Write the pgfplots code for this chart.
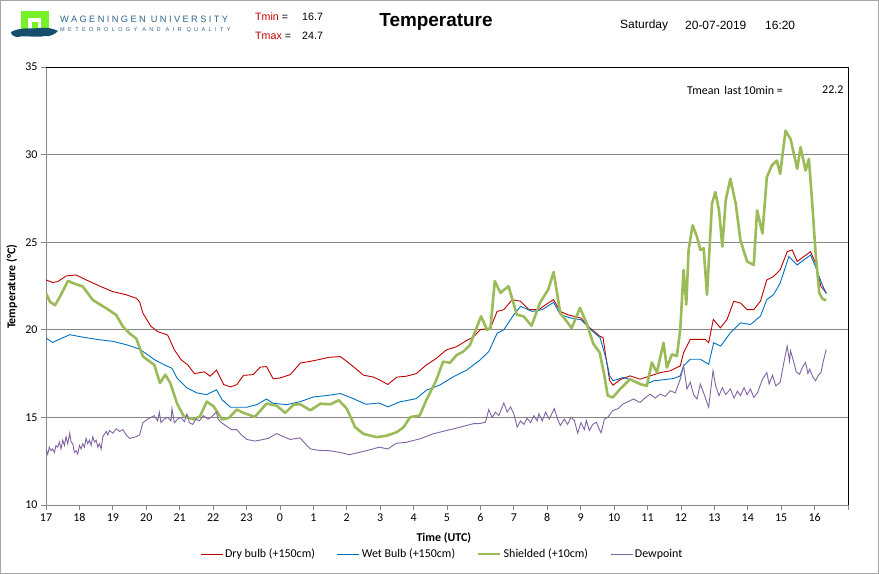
\documentclass[border=0pt]{standalone}
\usepackage{pgfplots}
\pgfplotsset{compat=1.18}
\usepackage{fontspec}
\setmainfont{Carlito}
\newfontfamily\arial{Liberation Sans}
\newfontfamily\wurA[LetterSpace=26]{Liberation Sans}
\newfontfamily\wurB[LetterSpace=60]{Liberation Sans}
\definecolor{tred}{RGB}{192,0,0}
\definecolor{tblue}{RGB}{0,112,192}
\definecolor{tgreen}{RGB}{155,187,89}
\definecolor{tpurple}{RGB}{128,100,162}
\definecolor{gridgray}{RGB}{134,134,134}
\definecolor{wurgreen}{RGB}{120,240,40}
\definecolor{wurdark}{RGB}{22,78,108}
\definecolor{wurblue}{RGB}{46,100,140}
\begin{document}
\begin{tikzpicture}[x=1bp,y=1bp]
\path[use as bounding box] (0,0) rectangle (879,574);
\draw[gray!70, line width=1bp] (0.5,0.5) rectangle (878.5,573.5);
% logo
\fill[wurgreen] (21,544) rectangle (49,563);
\fill[white] (28,544) rectangle (41,556);
\fill[wurgreen] (32,544) rectangle (38,552);
\fill[wurdark] (11,542) .. controls (20,547) and (30,545) .. (40,546) .. controls (48,547) and (54,545) .. (58,543) .. controls (55,540) and (50,537) .. (45,538) .. controls (35,536) and (25,539) .. (18,537) .. controls (14,537) and (11,539) .. (11,542) -- cycle;
\node[anchor=west, inner sep=0, text=wurblue, font=\wurA\fontsize{9.3}{11}\selectfont] at (60,555) {WAGENINGEN UNIVERSITY};
\node[anchor=west, inner sep=0, text=wurblue, font=\wurB\fontsize{5.6}{7}\selectfont] at (60,544) {METEOROLOGY AND AIR QUALITY};
% header texts
\node[anchor=west, inner sep=0, font=\arial\fontsize{10.7}{12}\selectfont] at (255,557) {\textcolor{tred}{Tmin} =};
\node[anchor=west, inner sep=0, font=\arial\fontsize{10.7}{12}\selectfont] at (302,557) {16.7};
\node[anchor=west, inner sep=0, font=\arial\fontsize{10.7}{12}\selectfont] at (255,538) {\textcolor{tred}{Tmax} =};
\node[anchor=west, inner sep=0, font=\arial\fontsize{10.7}{12}\selectfont] at (302,538) {24.7};
\node[inner sep=0, font=\arial\bfseries\fontsize{19}{22}\selectfont] at (436,552) {Temperature};
\node[anchor=west, inner sep=0, font=\arial\fontsize{12}{14}\selectfont] at (620,549) {Saturday};
\node[anchor=west, inner sep=0, font=\arial\fontsize{12}{14}\selectfont] at (685,549) {20-07-2019};
\node[anchor=west, inner sep=0, font=\arial\fontsize{12}{14}\selectfont] at (765,549) {16:20};
\node[anchor=west, inner sep=0, font=\fontsize{12}{14}\selectfont] at (687,484) {Tmean\, last\,10min =};
\node[anchor=west, inner sep=0, font=\fontsize{12}{14}\selectfont] at (822,484) {22.2};
\begin{axis}[at={(46bp,69bp)}, anchor=south west, scale only axis,
  width=802bp, height=438bp,
  xmin=0, xmax=24, ymin=10, ymax=35,
  xtick={0,...,24},
  xticklabels={17,18,19,20,21,22,23,0,1,2,3,4,5,6,7,8,9,10,11,12,13,14,15,16,{}},
  ytick={10,15,...,35},
  axis lines*=left,
  separate axis lines,
  x axis line style={gridgray, line width=0.9bp},
  y axis line style={gridgray, line width=0.9bp},
  tick align=outside, major tick length=5bp,
  tick style={color=gridgray, line width=0.8bp},
  ymajorgrids, grid style={color=gridgray, line width=0.9bp},
  ticklabel style={font=\fontsize{12}{14}\selectfont},
  /pgf/number format/assume math mode=true,
  xlabel={Time (UTC)},
  xlabel style={font=\bfseries\fontsize{12}{14}\selectfont, at={(axis description cs:0.496,-0.0753)}, anchor=center},
  ylabel={Temperature (°C)},
  ylabel style={font=\bfseries\fontsize{12}{14}\selectfont, at={(axis description cs:-0.0424,0.498)}, anchor=center},
  legend style={at={(0.494,-0.112)}, anchor=center, draw=none, fill=none,
    legend columns=4, font=\fontsize{12}{14}\selectfont,
    /tikz/every even column/.append style={column sep=20bp}, inner sep=0pt},
  legend cell align=left,
  legend image code/.code={\draw[#1] (0bp,0bp) -- (22bp,0bp);},
]
\addplot[color=tred, line width=0.9bp] table {
0 22.85
0.2 22.7
0.35 22.75
0.6 23.07
0.9 23.13
1.2 22.85
1.6 22.5
2.0 22.18
2.4 22.0
2.7 21.8
2.8 21.6
2.9 20.95
3.14 20.2
3.34 19.9
3.64 19.7
3.84 18.86
4.04 18.3
4.24 18.0
4.44 17.5
4.74 17.6
4.91 17.35
5.10 17.7
5.32 16.87
5.52 16.74
5.71 16.87
5.91 17.4
6.20 17.44
6.41 17.87
6.60 17.9
6.80 17.2
7.00 17.25
7.31 17.44
7.61 18.1
7.91 18.2
8.17 18.3
8.47 18.43
8.81 18.47
9.01 18.18
9.20 17.89
9.50 17.41
9.80 17.3
10.02 17.1
10.23 16.88
10.50 17.3
10.78 17.35
11.08 17.5
11.38 17.99
11.68 18.37
11.98 18.85
12.29 19.04
12.59 19.39
12.79 19.58
12.99 20.0
13.30 20.1
13.50 21.05
13.70 21.15
13.95 21.72
14.20 21.63
14.45 21.15
14.75 21.15
14.95 21.43
15.19 21.72
15.39 21.05
15.61 20.86
16.01 20.67
16.28 20.1
16.57 19.64
16.67 19.55
16.75 18.5
16.87 17.09
16.97 16.84
17.18 17.15
17.48 17.37
17.78 17.18
18.08 17.37
18.39 17.56
18.68 17.66
18.98 17.94
19.08 18.7
19.28 19.45
19.48 19.45
19.73 19.45
19.83 19.26
19.97 20.59
20.18 20.11
20.38 20.59
20.58 21.63
20.78 21.53
20.98 21.15
21.18 21.15
21.38 21.63
21.57 22.85
21.77 23.04
21.97 23.42
22.18 24.46
22.33 24.56
22.48 23.9
22.68 24.18
22.88 24.46
23.03 23.8
23.19 22.48
23.35 22.1
};
\addlegendentry{Dry bulb (+150cm)}
\addplot[color=tblue, line width=0.9bp] table {
0 19.53
0.2 19.28
0.45 19.5
0.71 19.72
1.1 19.58
1.6 19.43
2.0 19.34
2.4 19.15
2.8 18.9
3.04 18.58
3.24 18.3
3.54 18.0
3.77 17.8
3.92 17.25
4.22 16.68
4.51 16.4
4.81 16.3
5.10 16.58
5.27 16.0
5.52 15.58
6.01 15.58
6.31 15.73
6.60 16.05
6.80 15.8
7.21 15.73
7.61 15.9
8.01 16.17
8.42 16.25
8.81 16.36
9.20 16.07
9.57 15.75
9.97 15.82
10.23 15.6
10.58 15.88
11.08 16.07
11.38 16.55
11.78 16.84
12.19 17.32
12.59 17.7
12.99 18.28
13.25 18.76
13.50 19.8
13.70 20.0
14.00 20.86
14.20 21.34
14.55 21.05
14.85 21.15
15.19 21.57
15.39 20.86
15.71 20.67
16.01 20.57
16.31 20.0
16.58 19.55
16.75 18.41
16.87 17.37
16.97 17.09
17.28 17.28
17.58 17.09
17.88 16.84
18.19 17.09
18.48 17.15
18.78 17.22
18.98 17.37
19.08 17.94
19.28 18.32
19.58 18.32
19.83 18.03
19.98 19.26
20.19 19.07
20.48 19.83
20.78 20.4
21.08 20.3
21.38 20.78
21.57 21.72
21.77 22.0
21.97 22.67
22.23 24.18
22.48 23.7
22.68 23.99
22.88 24.27
23.03 23.6
23.19 22.76
23.35 22.06
};
\addlegendentry{Wet Bulb (+150cm)}
\addplot[color=tgreen, line width=2.6bp, line join=round] table {
0 22.09
0.12 21.6
0.27 21.4
0.42 21.9
0.66 22.8
0.81 22.66
1.1 22.47
1.4 21.7
1.8 21.23
2.1 20.85
2.3 20.19
2.5 19.8
2.7 19.5
2.9 18.48
3.24 18.0
3.41 16.96
3.57 17.44
3.72 16.96
3.92 15.8
4.12 15.07
4.42 14.88
4.61 15.07
4.81 15.9
5.01 15.64
5.27 14.88
5.47 14.97
5.71 15.45
5.91 15.26
6.25 15.03
6.60 15.79
6.90 15.67
7.16 15.26
7.41 15.73
7.61 15.75
7.91 15.4
8.21 15.78
8.51 15.75
8.76 15.98
9.00 15.5
9.25 14.44
9.50 14.06
9.90 13.87
10.20 13.96
10.50 14.16
10.70 14.44
10.90 15.02
11.18 15.1
11.38 15.98
11.68 17.13
11.88 18.18
12.09 18.12
12.29 18.56
12.49 18.76
12.69 19.14
12.84 19.9
13.02 20.77
13.20 20.0
13.30 20.1
13.43 22.78
13.60 22.11
13.84 22.49
14.09 20.86
14.29 20.77
14.53 20.23
14.78 21.53
15.03 22.3
15.19 23.3
15.39 20.96
15.73 20.1
15.98 21.25
16.18 20.35
16.38 19.2
16.57 18.7
16.71 17.37
16.81 16.24
16.96 16.14
17.18 16.62
17.48 17.18
17.78 16.9
17.98 16.8
18.13 18.13
18.28 17.56
18.48 19.26
18.58 17.84
18.73 18.6
18.88 18.5
18.98 20.02
19.08 23.42
19.16 21.44
19.23 24.56
19.35 25.97
19.48 25.31
19.58 24.56
19.68 24.65
19.78 22.0
19.93 27.2
20.03 27.86
20.14 26.82
20.24 24.74
20.34 27.39
20.48 28.62
20.64 27.2
20.78 25.12
20.98 23.9
21.18 23.7
21.28 26.82
21.44 25.5
21.57 28.71
21.72 29.38
21.87 29.66
21.97 28.9
22.13 31.36
22.28 30.89
22.48 29.19
22.58 30.42
22.73 29.09
22.83 29.75
22.93 27.2
23.03 24.37
23.14 22.1
23.24 21.76
23.35 21.68
};
\addlegendentry{Shielded (+10cm)}
\addplot[color=tpurple, line width=0.9bp] table {
0 13.17
0.05 12.9
0.1 13.3
0.15 13.1
0.2 13.2
0.25 13.0
0.3 13.4
0.35 13.3
0.4 13.6
0.45 13.2
0.5 13.7
0.55 13.4
0.6 13.9
0.65 13.5
0.71 14.1
0.75 13.6
0.8 13.5
0.85 13.0
0.9 13.1
0.95 12.9
1.0 13.4
1.05 13.2
1.1 13.5
1.15 13.3
1.2 13.8
1.25 13.5
1.3 13.7
1.35 13.4
1.4 13.9
1.45 13.6
1.5 13.7
1.55 13.3
1.6 13.5
1.65 13.2
1.7 13.9
1.8 14.2
1.85 14.0
1.9 14.25
2.0 14.1
2.1 14.35
2.2 14.2
2.3 14.3
2.4 14.0
2.5 13.8
2.6 13.85
2.7 13.9
2.8 14.0
2.9 14.7
3.04 14.9
3.14 15.0
3.24 15.1
3.34 14.8
3.39 15.3
3.44 14.7
3.54 14.9
3.64 15.0
3.74 14.8
3.77 15.5
3.84 14.7
3.94 14.9
4.04 15.0
4.14 14.75
4.22 15.2
4.29 14.7
4.39 14.6
4.49 14.9
4.59 14.8
4.71 15.1
4.84 14.9
4.94 15.0
5.10 15.3
5.15 14.9
5.25 14.7
5.40 14.5
5.55 14.3
5.71 14.3
5.85 14.0
6.01 13.74
6.25 13.65
6.45 13.72
6.65 13.8
6.90 14.08
7.11 13.9
7.31 13.74
7.60 13.83
7.76 13.5
7.91 13.2
8.17 13.12
8.47 13.1
8.81 13.0
9.07 12.87
9.37 13.0
9.67 13.14
9.97 13.3
10.23 13.2
10.48 13.52
10.78 13.58
11.18 13.77
11.58 14.06
11.98 14.25
12.39 14.44
12.79 14.64
12.99 14.65
13.15 14.73
13.25 15.44
13.35 15.0
13.45 15.3
13.55 15.1
13.70 15.82
13.80 15.3
13.90 15.6
14.00 15.2
14.10 14.44
14.20 14.8
14.30 14.6
14.40 14.95
14.50 14.7
14.60 15.1
14.70 14.8
14.75 15.21
14.85 14.8
14.95 15.3
15.06 14.9
15.21 15.5
15.31 14.9
15.39 14.54
15.51 14.9
15.61 14.6
15.71 15.0
15.81 14.83
15.91 14.1
16.01 14.7
16.11 14.3
16.17 14.83
16.26 14.25
16.36 14.6
16.47 14.72
16.56 14.3
16.61 14.12
16.71 14.9
16.81 15.0
16.96 15.39
17.12 15.5
17.27 15.77
17.42 15.9
17.58 16.05
17.72 15.9
17.78 15.86
17.92 16.1
18.08 16.33
18.23 16.1
18.38 16.33
18.53 16.2
18.68 16.52
18.83 16.4
18.98 17.18
19.08 17.94
19.18 16.62
19.28 17.0
19.38 16.3
19.48 16.05
19.58 16.9
19.68 16.4
19.83 15.58
19.96 17.66
20.04 16.8
20.14 16.24
20.24 16.7
20.34 16.3
20.48 16.62
20.59 16.1
20.69 16.5
20.78 16.24
20.89 16.7
20.98 16.3
21.08 16.62
21.18 16.14
21.29 16.4
21.44 17.18
21.57 17.56
21.64 16.9
21.74 17.4
21.84 16.8
21.97 17.0
22.08 18.13
22.18 19.07
22.25 18.2
22.28 18.8
22.38 18.13
22.45 17.6
22.55 17.47
22.65 17.9
22.73 18.13
22.80 17.5
22.85 17.75
22.95 17.3
23.03 17.09
23.11 17.4
23.19 17.56
23.26 18.2
23.35 18.88
};
\addlegendentry{Dewpoint}
\end{axis}
\draw[black, line width=0.9bp] (46,507) -- (848,507) -- (848,69);
\end{tikzpicture}
\end{document}
